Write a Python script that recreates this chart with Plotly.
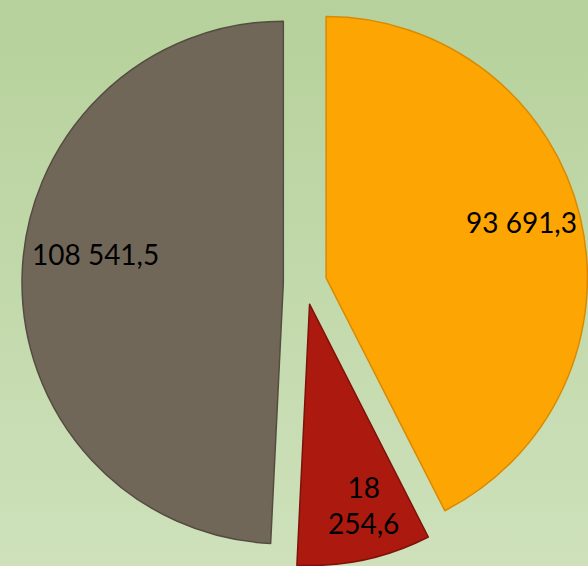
import plotly.graph_objects as go

categories = ["A", "B", "C"]
values = [93691.3, 18254.6, 108541.5]
value_labels = ["93 691,3", "18<br>254,6", "108 541,5"]
colors = ["#FDA502", "#AC1A0F", "#716759"]
edge_colors = ["#D98A00", "#7E120A", "#554C41"]

# label anchor points (paper coordinates)
label_x = [0.887, 0.618, 0.162]
label_y = [0.607, 0.108, 0.551]

fig = go.Figure()

# background gradient (hidden cartesian axes)
fig.add_trace(go.Scatter(
    x=[0, 1, 1, 0, 0], y=[0, 0, 1, 1, 0], mode="lines", fill="toself",
    line=dict(width=0), hoverinfo="skip", showlegend=False,
    fillgradient=dict(type="vertical",
                      colorscale=[[0, "#CEE1BB"], [1, "#B6D19B"]]),
))

fig.add_trace(go.Pie(
    labels=categories, values=values,
    textinfo="none",
    sort=False, direction="clockwise", rotation=0,
    pull=[0.083, 0.083, 0.083],
    marker=dict(colors=colors, line=dict(color=edge_colors, width=1.5)),
    domain=dict(x=[22/588, 1], y=[0, 1]),
    showlegend=False,
))

for t, lx, ly in zip(value_labels, label_x, label_y):
    fig.add_annotation(
        x=lx, y=ly, xref="paper", yref="paper", text=t, showarrow=False,
        xanchor="center", yanchor="middle",
        font=dict(family="Lato, sans-serif", size=28, color="#000000"),
    )

fig.update_layout(
    width=588, height=566,
    margin=dict(l=0, r=0, t=0, b=0),
    paper_bgcolor="#C2DAAB", plot_bgcolor="rgba(0,0,0,0)",
    xaxis=dict(visible=False, range=[0, 1], fixedrange=True),
    yaxis=dict(visible=False, range=[0, 1], fixedrange=True),
    showlegend=False,
)

fig.write_html("out.html",
               config={"displayModeBar": False},
               post_script="document.body.style.margin='0';document.body.style.overflow='hidden';")
